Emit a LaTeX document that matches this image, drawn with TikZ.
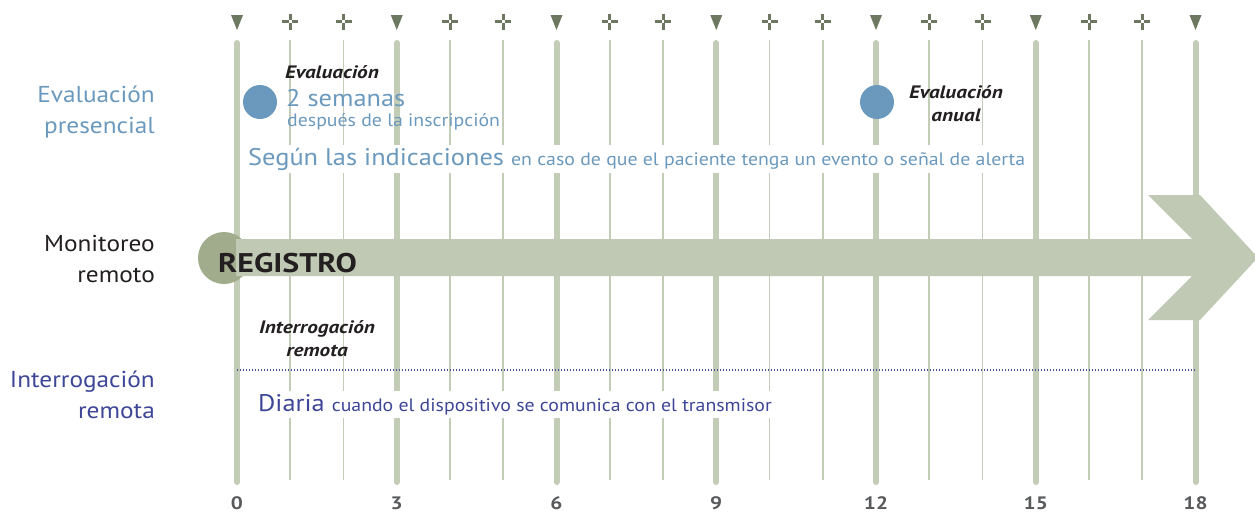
\documentclass[tikz,border=0pt]{standalone}
\usepackage{fontspec}
\setmainfont{PT Sans}[FakeStretch=1.1]
\newfontfamily\strongfont{PT Sans}[FakeStretch=1.18]
\definecolor{gridc}{HTML}{C3CCB6}
\definecolor{markc}{HTML}{6D7860}
\definecolor{bluec}{HTML}{6B99BD}
\definecolor{navyc}{HTML}{3E4797}
\definecolor{dotc}{HTML}{4B509A}
\definecolor{numc}{HTML}{58595B}
\definecolor{arrowc}{HTML}{BFC9B3}
\definecolor{circc}{HTML}{A0AC8C}
\definecolor{inkc}{HTML}{231F20}
\tikzset{
  thickline/.style={draw=gridc, line width=6pt, line cap=round},
  thinline/.style={draw=gridc, line width=1.8pt},
  trimark/.style={fill=markc},
  crossmark/.style={draw=markc, line width=3pt},
  rowlabel/.style={align=right, anchor=base east, inner sep=0pt, font=\fontsize{23}{31}\selectfont},
  evtitle/.style={inner sep=0pt, font=\strongfont\fontsize{18}{23}\selectfont\bfseries\itshape, text=inkc, align=center},
  bigblue/.style={inner sep=0pt, anchor=base west, font=\fontsize{24}{28}\selectfont},
  smallfont/.style={font=\fontsize{18}{21}\selectfont},
  numlabel/.style={inner sep=0pt, anchor=base, font=\strongfont\fontsize{18}{20}\selectfont\bfseries, text=numc},
  dot/.style={circle, fill=bluec, minimum size=34pt, inner sep=0pt},
}
\begin{document}
\begin{tikzpicture}[x=1pt, y=-1pt]
\useasboundingbox (0,0) rectangle (1255,512);
% vertical month lines and markers
\foreach \i in {0,...,18} {
  \pgfmathsetmacro{\xx}{237+\i*53.25}
  \pgfmathtruncatemacro{\m}{mod(\i,3)}
  \coordinate (top\i) at (\xx,40);
  \ifnum\m=0
    \draw[thickline] (\xx,43) -- (\xx,482);
    \fill[trimark] (\xx-6,15) -- (\xx+6,15) -- (\xx,30) -- cycle;
    \node[numlabel] (n\i) at (\xx,509) {\i};
  \else
    \draw[thinline] (\xx,40) -- (\xx,480);
    \draw[crossmark] (\xx-8,21.5) -- (\xx-1.4,21.5) (\xx+1.4,21.5) -- (\xx+8,21.5)
                     (\xx,13.5) -- (\xx,20.1) (\xx,22.9) -- (\xx,29.5);
  \fi
}
% row labels
\node[rowlabel, text=bluec] (lab1) at (155,133) {Evaluación\\presencial};
\node[rowlabel, text=inkc] (lab2) at (155,282) {Monitoreo\\remoto};
\node[rowlabel, text=navyc] (lab3) at (155,418) {Interrogación\\remota};
% registration arrow
\node[circle, fill=circc, minimum size=52pt, inner sep=0pt] (start) at (224,258) {};
\fill[arrowc] (236,239) -- (1192,239) -- (1148,195) -- (1200,195) -- (1258,257.5)
  -- (1200,320) -- (1148,320) -- (1192,276) -- (236,276) -- cycle;
\node[inner sep=0pt, anchor=base west, font=\strongfont\fontsize{27}{30}\selectfont\bfseries, text=inkc] (reg) at (218,272) {REGISTRO};
% evaluations
\node[dot] (ev1) at (260,102) {};
\node[evtitle, anchor=base west] (ev1t) at (285,78) {Evaluación};
\node[bigblue, text=bluec] (ev1a) at (286,106) {2 semanas};
\node[inner sep=0pt, anchor=base west, smallfont, text=bluec] (ev1b) at (287,126) {después de la inscripción};
\node[dot] (ev2) at (877,102) {};
\node[evtitle, anchor=base] (ev2t) at (956,121) {Evaluación\\anual};
\node[fill=white, inner sep=3pt, anchor=base west, text=bluec] (ind) at (245,165)
  {\fontsize{24}{28}\selectfont Según las indicaciones \fontsize{18}{21}\selectfont en caso de que el paciente tenga un evento o señal de alerta};
% remote interrogation
\node[evtitle, anchor=base] (rit) at (317,356) {Interrogación\\remota};
\coordinate (dl) at (237,370);
\coordinate (dr) at (1196,370);
\draw[dotc, line width=1.2pt, dash pattern=on 1.2pt off 1.8pt] (dl) -- (dr);
\node[fill=white, inner sep=3pt, anchor=base west, text=navyc] (diaria) at (255,411)
  {\fontsize{24}{28}\selectfont Diaria \fontsize{18}{21}\selectfont cuando el dispositivo se comunica con el transmisor};
\end{tikzpicture}
\end{document}
